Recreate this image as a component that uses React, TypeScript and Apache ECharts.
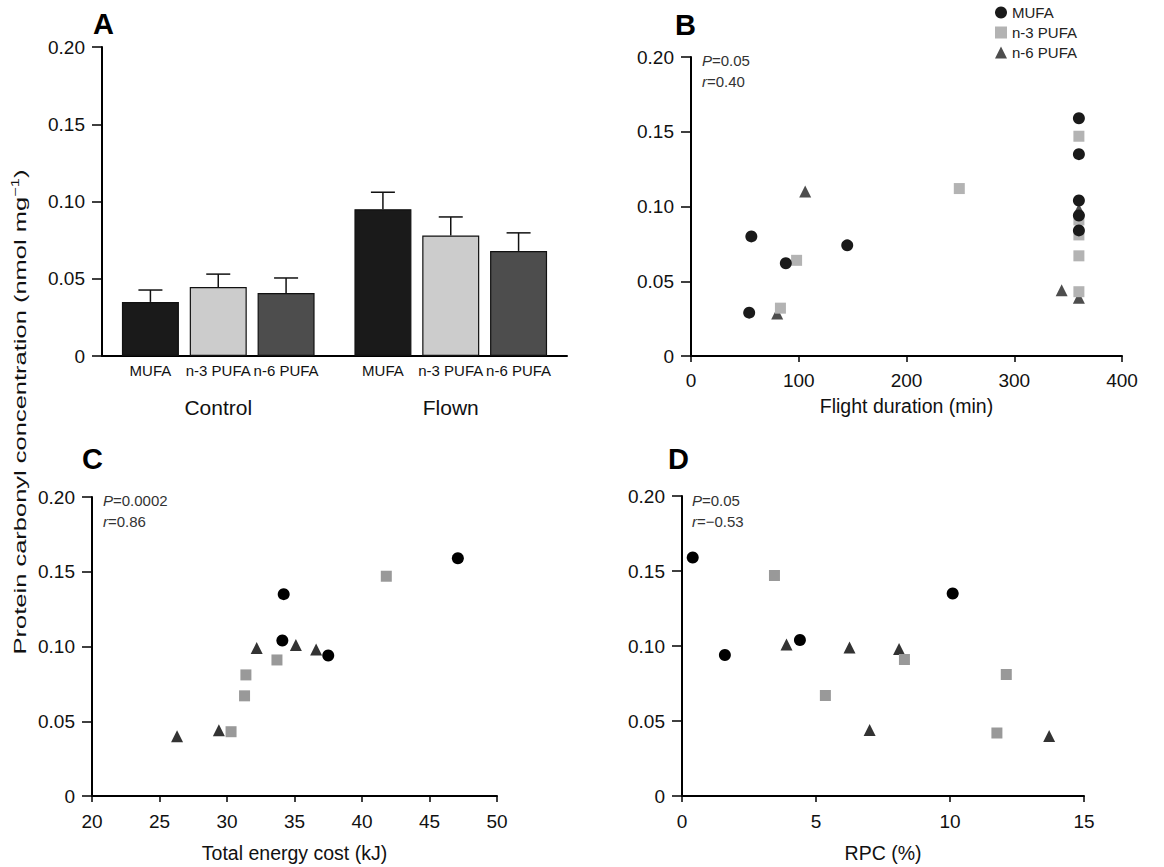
import React, { useEffect, useRef } from "react";
import * as echarts from "echarts";

// ---------- DATA ----------
const groups = ["Control", "Flown"];
const fatTypes = ["MUFA", "n-3 PUFA", "n-6 PUFA"];
// Panel A means and SEM (per fat type, per group)
const barMUFA = [0.035, 0.095];
const barN3 = [0.0446, 0.078];
const barN6 = [0.0407, 0.068];
const semMUFA = [0.0077, 0.011];
const semN3 = [0.0084, 0.012];
const semN6 = [0.0098, 0.0117];

const yTicks = [0, 0.05, 0.1, 0.15, 0.2];

// Panel B: flight duration (min) vs concentration
const mufaB = [[54, 0.029], [56, 0.08], [88, 0.062], [145, 0.074], [360, 0.159], [360, 0.135], [360, 0.104], [360, 0.094], [360, 0.084]];
const n3B = [[83, 0.032], [98, 0.064], [249, 0.112], [360, 0.147], [360, 0.091], [360, 0.081], [360, 0.067], [360, 0.043]];
const n6B = [[80, 0.0285], [106, 0.11], [344, 0.044], [360, 0.098], [360, 0.039]];

// Panel C: total energy cost (kJ)
const mufaC = [[47.1, 0.159], [34.2, 0.135], [34.1, 0.104], [37.5, 0.094]];
const n3C = [[41.8, 0.147], [33.7, 0.091], [31.4, 0.081], [31.3, 0.067], [30.3, 0.043]];
const n6C = [[26.3, 0.04], [29.4, 0.044], [32.2, 0.099], [35.1, 0.101], [36.6, 0.098]];

// Panel D: RPC (%)
const mufaD = [[0.4, 0.159], [1.6, 0.094], [4.4, 0.104], [10.1, 0.135]];
const n3D = [[3.45, 0.147], [5.35, 0.067], [8.3, 0.091], [12.1, 0.081], [11.75, 0.042]];
const n6D = [[3.9, 0.101], [6.25, 0.099], [8.1, 0.098], [7.0, 0.044], [13.7, 0.04]];

const statsB = ["0.05", "0.40"];
const statsC = ["0.0002", "0.86"];
const statsD = ["0.05", "\u22120.53"];

// ---------- STYLE ----------
const FONT = '"Liberation Sans", Arial, Helvetica, sans-serif';
const barColors = ["#1a1a1a", "#cccccc", "#4d4d4d"];
const colB = { mufa: "#1a1a1a", n3: "#b3b3b3", n6: "#4d4d4d" };
const colCD = { mufa: "#000000", n3: "#999999", n6: "#333333" };

export default function App() {
  const ref = useRef<HTMLDivElement>(null);

  useEffect(() => {
    document.body.style.margin = "0";
    const chart = echarts.init(ref.current!, null, { renderer: "svg" });

    const yFmt = (v: number) => (v === 0 ? "0" : v.toFixed(2));
    const axisLine = { show: true, lineStyle: { color: "#000", width: 2 } };
    const yAxisBase = (gridIndex: number) => ({
      type: "value",
      gridIndex,
      min: yTicks[0],
      max: yTicks[yTicks.length - 1],
      interval: 0.05,
      splitLine: { show: false },
      axisLine,
      axisTick: { show: true, length: 10, lineStyle: { color: "#000", width: 1.5 } },
      axisLabel: { formatter: yFmt, fontSize: 19, color: "#111", margin: 17, fontFamily: FONT },
    });
    const xValAxis = (gridIndex: number, min: number, max: number, interval: number, name: string, nameGap: number, margin: number) => ({
      type: "value",
      gridIndex,
      min,
      max,
      interval,
      name,
      nameLocation: "middle",
      nameGap,
      nameTextStyle: { fontSize: 19.5, color: "#111", fontFamily: FONT },
      splitLine: { show: false },
      axisLine,
      axisTick: { show: true, length: 6, lineStyle: { color: "#000", width: 1.5 } },
      axisLabel: { fontSize: 19, color: "#111", margin, fontFamily: FONT },
    });

    const means = [barMUFA, barN3, barN6];
    const sems = [semMUFA, semN3, semN6];
    const barW = 57;
    const gapRatio = 0.19;

    const barSeries = means.map((vals, k) => ({
      type: "bar",
      name: "bar-" + fatTypes[k],
      xAxisIndex: 0,
      yAxisIndex: 0,
      data: vals,
      barWidth: barW,
      barGap: gapRatio * 100 + "%",
      itemStyle: { color: barColors[k], borderColor: "#111", borderWidth: 1.2 },
      label: {
        show: true,
        position: "bottom",
        distance: 7,
        formatter: () => fatTypes[k],
        fontSize: 15,
        color: "#111",
        fontFamily: FONT,
      },
      z: 3,
    }));

    const errSeries = means.map((vals, k) => ({
      type: "custom",
      name: "err-" + fatTypes[k],
      xAxisIndex: 0,
      yAxisIndex: 0,
      data: vals.map((m, i) => [i, m, m + sems[k][i]]),
      encode: { x: 0, y: [1, 2] },
      z: 2,
      renderItem: (params: any, api: any) => {
        const i = api.value(0);
        const m = api.value(1);
        const u = api.value(2);
        const base = api.coord([i, m]);
        const top = api.coord([i, u]);
        const x = base[0] + (k - 1) * barW * (1 + gapRatio);
        return {
          type: "group",
          children: [
            { type: "line", shape: { x1: x, y1: base[1], x2: x, y2: top[1] }, style: { stroke: "#111", lineWidth: 1.5 } },
            { type: "line", shape: { x1: x - 12, y1: top[1], x2: x + 12, y2: top[1] }, style: { stroke: "#111", lineWidth: 1.5 } },
          ],
        };
      },
    }));

    const scatter = (name: string, data: number[][], grid: number, symbol: string, size: number, color: string) => ({
      type: "scatter",
      name,
      xAxisIndex: grid,
      yAxisIndex: grid,
      data,
      symbol,
      symbolSize: size,
      itemStyle: { color, opacity: 1 },
    });

    const scatterSet = (grid: number, mufa: number[][], n3: number[][], n6: number[][], col: any) => [
      scatter("n-6 PUFA", n6, grid, "triangle", 12, col.n6),
      scatter("n-3 PUFA", n3, grid, "rect", 11, col.n3),
      scatter("MUFA", mufa, grid, "circle", 12, col.mufa),
    ];

    const statText = (x: number, y: number, s: string[]) => ({
      type: "text",
      left: x,
      top: y,
      style: {
        text: "{i|P}{n|=" + s[0] + "}\n{i|r}{n|=" + s[1] + "}",
        rich: {
          i: { fontStyle: "italic", fontSize: 15, fontFamily: FONT, fill: "#333", lineHeight: 21 },
          n: { fontSize: 15, fontFamily: FONT, fill: "#333", lineHeight: 21 },
        },
      },
    });

    const letter = (t: string, x: number, y: number) => ({
      type: "text",
      x,
      y,
      style: { text: t, fontSize: 29, fontWeight: "bold", fontFamily: FONT, fill: "#000", textVerticalAlign: "middle" },
    });

    const option: any = {
      animation: false,
      backgroundColor: "#fff",
      textStyle: { fontFamily: FONT },
      grid: [
        { left: 102, top: 47, width: 465, height: 309, outerBoundsMode: "none" },
        { left: 691, top: 57, width: 431, height: 299, outerBoundsMode: "none" },
        { left: 92, top: 497, width: 405, height: 299, outerBoundsMode: "none" },
        { left: 682, top: 496, width: 402, height: 300, outerBoundsMode: "none" },
      ],
      xAxis: [
        {
          type: "category",
          gridIndex: 0,
          data: groups,
          axisLine,
          axisTick: { show: false },
          axisLabel: { fontSize: 21, color: "#111", margin: 41, fontFamily: FONT },
        },
        xValAxis(1, 0, 400, 100, "Flight duration (min)", 40, 15),
        xValAxis(2, 20, 50, 5, "Total energy cost (kJ)", 47, 16),
        xValAxis(3, 0, 15, 5, "RPC (%)", 47, 16),
      ],
      yAxis: [yAxisBase(0), yAxisBase(1), yAxisBase(2), yAxisBase(3)],
      legend: {
        orient: "vertical",
        left: 990,
        top: 0,
        itemWidth: 12,
        itemHeight: 12,
        itemGap: 5,
        textStyle: { fontSize: 15, color: "#222", fontFamily: FONT },
        data: [
          { name: "MUFA", icon: "circle" },
          { name: "n-3 PUFA", icon: "rect" },
          { name: "n-6 PUFA", icon: "triangle" },
        ],
        selectedMode: false,
      },
      series: [
        ...scatterSet(1, mufaB, n3B, n6B, colB),
        ...scatterSet(2, mufaC, n3C, n6C, colCD),
        ...scatterSet(3, mufaD, n3D, n6D, colCD),
        ...errSeries,
        ...barSeries,
      ],
      graphic: [
        letter("A", 93, 24),
        letter("B", 675, 25),
        letter("C", 82, 459),
        letter("D", 668, 459),
        statText(702, 53, statsB),
        statText(103, 493, statsC),
        statText(692, 493, statsD),
        {
          type: "text",
          x: 20,
          y: 412,
          rotation: Math.PI / 2,
          scaleX: 1.5,
          style: {
            text: "{a|Protein carbonyl concentration (nmol mg}{s|\u22121}{a|)}",
            align: "center",
            verticalAlign: "middle",
            rich: {
              a: { fontSize: 17, fontFamily: FONT, fill: "#111", lineHeight: 21 },
              s: { fontSize: 11, fontFamily: FONT, fill: "#111", verticalAlign: "top", lineHeight: 21, padding: [0, 0, 8, 0] },
            },
          },
        },
      ],
    };

    chart.setOption(option);
    return () => chart.dispose();
  }, []);

  return <div ref={ref} style={{ width: 1164, height: 867 }} />;
}
